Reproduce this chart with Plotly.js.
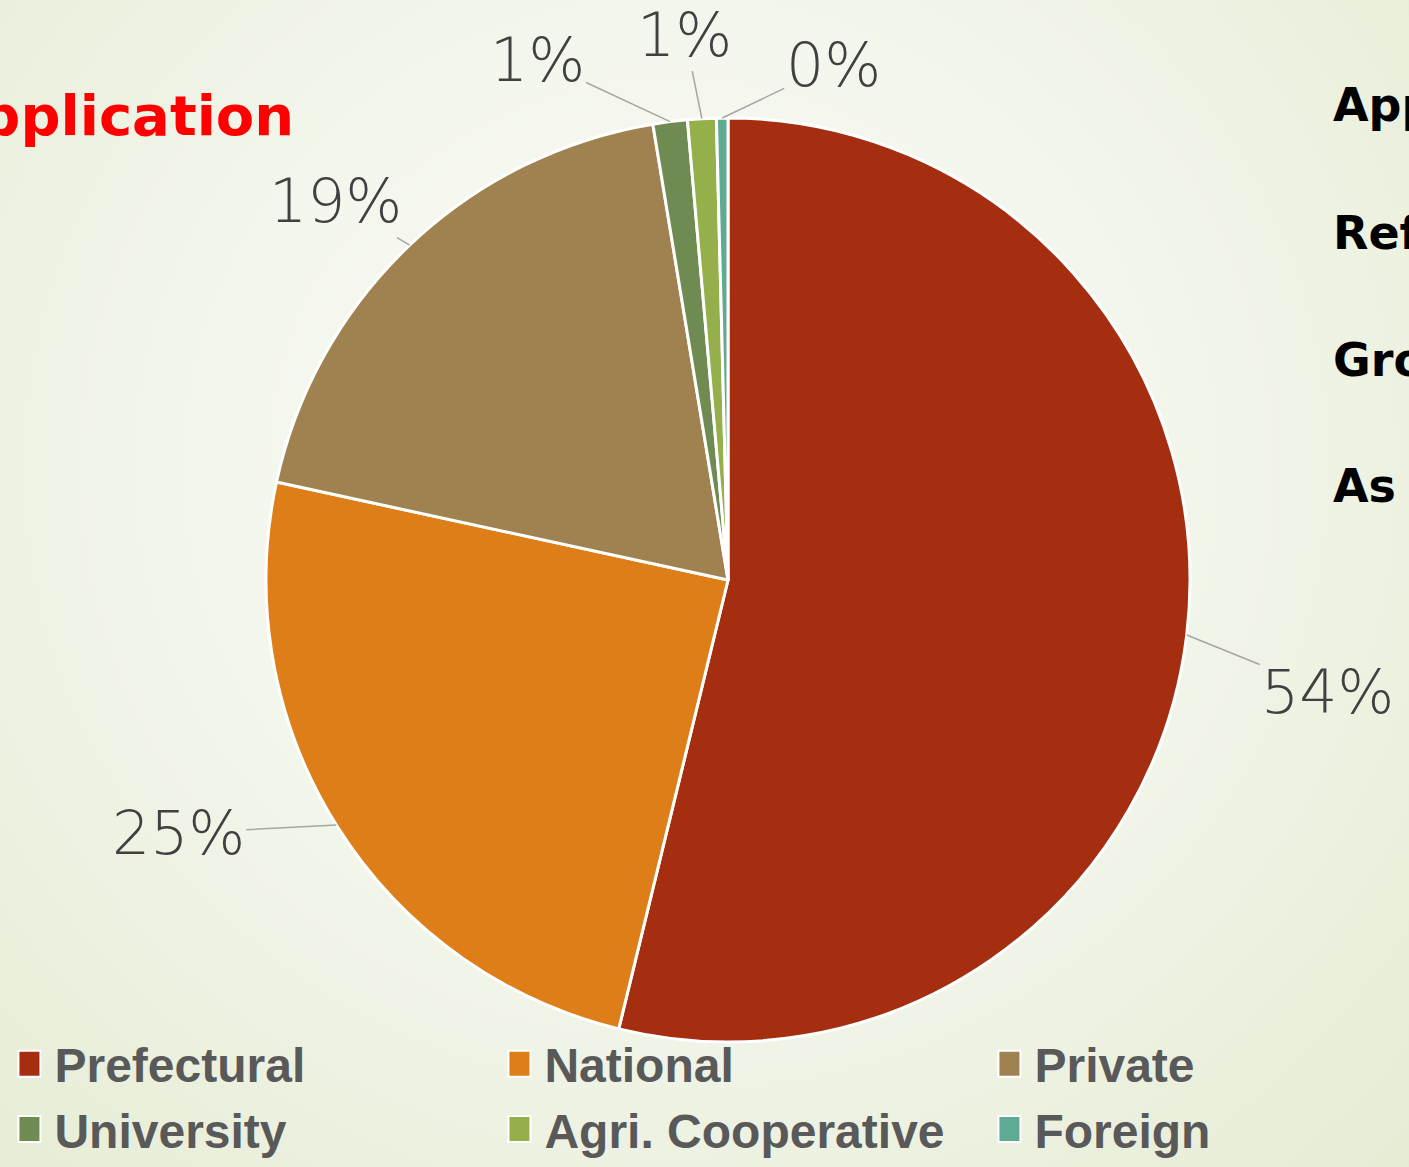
<!DOCTYPE html>
<html>
<head>
<meta charset="utf-8">
<script src="https://cdn.plot.ly/plotly-3.0.1.min.js"></script>
<style>
  html, body { margin: 0; padding: 0; width: 1409px; height: 1167px; overflow: hidden; }
  body { background: radial-gradient(ellipse at 48% 40%, #fbfcf9 0%, #f3f6ec 45%, #e6ecd4 100%); }
  #chart { width: 1480px; height: 1167px; }
</style>
</head>
<body>
<div id="chart"></div>
<script>
// ---- data ----
const categories = ["Prefectural", "National", "Private", "University", "Agri. Cooperative", "Foreign"];
const shares = [53.8, 24.6, 19.0, 1.2, 1.0, 0.4];
const sliceColors = ["#A52D10", "#DE7E18", "#A08251", "#6F8B52", "#95AF4B", "#5FAA95"];
const sideTexts = ["Application", "Reference", "Group", "As of"];
const titleText = "Application";

// ---- geometry / style ----
const LW = 1480, H = 1167;          // layout size (page shows the left 1409 px)
const cx = 728, cy = 580, R = 462;   // pie centre and radius, in pixels
// offsets (px) from each slice's outer mid-point to its percentage label
const labelOffsets = [[141, 57], [-158, 8], [-74, -44], [-133, -62], [-17, -84], [111, -53]];

const total = shares.reduce((a, b) => a + b, 0);

const trace = {
  type: "pie",
  labels: categories,
  values: shares,
  sort: false,
  direction: "clockwise",
  rotation: 0,
  marker: { colors: sliceColors, line: { color: "#ffffff", width: 3 } },
  textinfo: "none",
  textposition: "none",
  hoverinfo: "label+percent",
  domain: { x: [(cx - R) / LW, (cx + R) / LW], y: [(H - cy - R) / H, (H - cy + R) / H] },
  automargin: false
};

const annotations = [];
// percentage labels with leader lines, anchored at each slice's outer mid-point
let cum = 0;
shares.forEach((v, i) => {
  const theta = (cum + v / 2) / total * 2 * Math.PI;
  cum += v;
  const px = cx + R * Math.sin(theta);
  const py = cy - R * Math.cos(theta);
  annotations.push({
    xref: "paper", yref: "paper", x: px / LW, y: 1 - py / H,
    text: Math.round(v / total * 100) + "%",
    showarrow: true, arrowhead: 0, arrowwidth: 1.5, arrowcolor: "#A6A6A6",
    standoff: 0, startstandoff: 0,
    ax: labelOffsets[i][0], ay: labelOffsets[i][1],
    font: { family: "DejaVu Sans", size: 60, color: "#404040", weight: 200 }
  });
});

annotations.push({
  xref: "paper", yref: "paper", x: 296 / LW, y: 1 - 116 / H, xanchor: "right", yanchor: "middle",
  text: "<b>" + titleText + "</b>", showarrow: false,
  font: { family: "DejaVu Sans", size: 56, color: "#FF0000" }
});
const sideY = [105, 233, 360, 486];
sideTexts.forEach((t, i) => {
  annotations.push({
    xref: "paper", yref: "paper", x: 1331 / LW, y: 1 - sideY[i] / H, xanchor: "left", yanchor: "middle",
    text: "<b>" + t + "</b>", showarrow: false,
    font: { family: "DejaVu Sans", size: 46, color: "#000000" }
  });
});

const layout = {
  width: LW, height: H,
  margin: { l: 0, r: 0, t: 0, b: 0 },
  paper_bgcolor: "rgba(0,0,0,0)",
  plot_bgcolor: "rgba(0,0,0,0)",
  showlegend: true,
  legend: {
    orientation: "h", x: 0.003, y: 0, xanchor: "left", yanchor: "bottom",
    entrywidth: 435, entrywidthmode: "pixels",
    font: { family: "Liberation Sans", size: 48, color: "#595959", weight: 700 },
    itemwidth: 40, traceorder: "normal"
  },
  annotations: annotations
};

function enlargeLegendSymbols(gd) {
  gd.querySelectorAll(".legend path.legendpie").forEach(p => {
    p.setAttribute("d", "M11,13H-11V-13H11Z");
    p.style.strokeWidth = "2px";
  });
}

Plotly.newPlot("chart", [trace], layout, { displayModeBar: false, staticPlot: true }).then(gd => {
  enlargeLegendSymbols(gd);
  gd.on("plotly_afterplot", () => enlargeLegendSymbols(gd));
});
</script>
</body>
</html>
